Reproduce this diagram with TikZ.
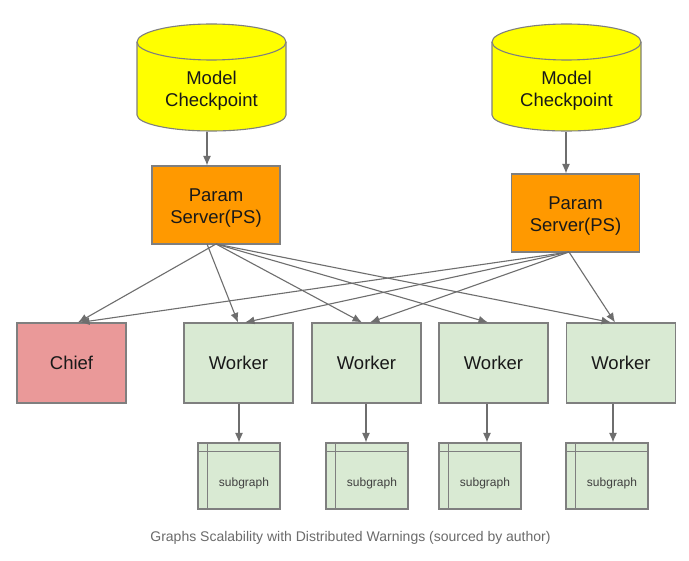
\documentclass[tikz,border=0pt]{standalone}
\usepackage{fontspec}
\setmainfont{Liberation Sans}
\usetikzlibrary{arrows.meta}
\definecolor{edgegray}{HTML}{7F7F7F}
\definecolor{linegray}{HTML}{6E6E6E}
\definecolor{cylyellow}{HTML}{FFFF00}
\definecolor{psorange}{HTML}{FF9900}
\definecolor{chiefred}{HTML}{EA9999}
\definecolor{workergreen}{HTML}{D9EAD3}
\definecolor{captiongray}{HTML}{6B6B6B}
\tikzset{
  bigfont/.style={font=\fontsize{18.5}{22}\selectfont, text=black!90},
  cylshape/.style={fill=cylyellow, draw=edgegray, line width=1.1pt},
  bigtext/.style={bigfont, align=center, inner sep=0pt},
  psbox/.style={fill=psorange, draw=edgegray, line width=1.1pt,
    minimum width=128pt, minimum height=78pt, inner sep=0pt},
  chiefbox/.style={bigfont, fill=chiefred, draw=edgegray, line width=1.1pt,
    minimum width=109pt, minimum height=80pt, inner sep=0pt},
  workerbox/.style={bigfont, fill=workergreen, draw=edgegray, line width=1.1pt,
    minimum width=109pt, minimum height=80pt, inner sep=0pt},
  sgbox/.style={fill=workergreen, draw=edgegray, line width=1.1pt,
    minimum width=82pt, minimum height=66pt, inner sep=0pt},
  sgline/.style={draw=edgegray, line width=1.1pt},
  sgtext/.style={font=\fontsize{12}{14}\selectfont, text=black!75, inner sep=0pt},
  arr/.style={draw=linegray, line width=1.1pt, -{Latex[length=9.5pt,width=8pt]}},
  captionstyle/.style={font=\fontsize{14}{16}\selectfont, text=captiongray, inner sep=0pt}
}
\begin{document}
\begin{tikzpicture}[x=1pt,y=-1pt]
\useasboundingbox[fill=white] (0,0) rectangle (689,561);

% cylinders
\path[cylshape] (137,42) -- (137,115) arc[start angle=180,end angle=360,x radius=74.5pt,y radius=16pt]
  -- (286,42) arc[start angle=0,end angle=180,x radius=74.5pt,y radius=18pt] -- cycle;
\draw[sgline] (137,42) arc[start angle=180,end angle=360,x radius=74.5pt,y radius=18pt];
\path[cylshape] (492,42) -- (492,115) arc[start angle=180,end angle=360,x radius=74.5pt,y radius=16pt]
  -- (641,42) arc[start angle=0,end angle=180,x radius=74.5pt,y radius=18pt] -- cycle;
\draw[sgline] (492,42) arc[start angle=180,end angle=360,x radius=74.5pt,y radius=18pt];
\node[bigtext] (mc1) at (211.5,90.5) {Model\\Checkpoint};
\node[bigtext] (mc2) at (566.5,90.5) {Model\\Checkpoint};
\coordinate (mc1b) at (207,132);
\coordinate (mc2b) at (566,132);

% parameter servers
\node[psbox] (ps1) at (216,205) {};
\node[bigtext] (ps1t) at ([yshift=-3pt]ps1.center) {Param\\Server(PS)};
\node[psbox] (ps2) at (575.5,213) {};
\node[bigtext] (ps2t) at ([yshift=-3pt]ps2.center) {Param\\Server(PS)};

% bottom row
\node[chiefbox] (ch) at (71.5,363) {Chief};
\node[workerbox] (w1) at (238.5,363) {Worker};
\node[workerbox] (w2) at (366.5,363) {Worker};
\node[workerbox] (w3) at (493.5,363) {Worker};
\node[workerbox] (w4) at (621,363) {Worker};

% subgraphs
\foreach \n/\x in {1/239,2/367,3/480,4/607}{
  \node[sgbox] (sg\n) at (\x,476) {};
  \draw[sgline] ([xshift=10pt]sg\n.north west) -- ([xshift=10pt]sg\n.south west);
  \draw[sgline] ([yshift=-9pt]sg\n.north west) -- ([yshift=-9pt]sg\n.north east);
  \node[sgtext] (sgt\n) at ([xshift=5pt,yshift=-7pt]sg\n.center) {subgraph};
}

% checkpoint -> PS
\draw[arr] (mc1b) -- (ps1.north -| mc1b);
\draw[arr] (mc2b) -- (ps2.north -| mc2b);

% PS1 connectors
\coordinate (p1a) at (207,244);
\coordinate (p1b) at (216,244);
\draw[arr] (p1b) -- (ch.north -| 78,0);
\draw[arr] (p1a) -- (w1.north -| 238,0);
\draw[arr] (p1b) -- (w2.north -| 362,0);
\draw[arr] (p1b) -- (w3.north -| 488,0);
\draw[arr] (p1b) -- (w4.north -| 611,0);

% PS2 connectors
\coordinate (p2a) at (569,252);
\draw[arr] (p2a) -- (ch.north -| 80,0);
\draw[arr] (p2a) -- (w1.north -| 245,0);
\draw[arr] (p2a) -- (w2.north -| 370,0);
\draw[arr] (p2a) -- (w4.north -| 615,0);

% worker -> subgraph
\draw[arr] (w1.south -| 239,0) -- (sg1.north -| 239,0);
\draw[arr] (w2.south -| 366,0) -- (sg2.north -| 366,0);
\draw[arr] (w3.south -| 487,0) -- (sg3.north -| 487,0);
\draw[arr] (w4.south -| 613,0) -- (sg4.north -| 613,0);

% caption
\node[captionstyle] (cap) at (350.5,538) {Graphs Scalability with Distributed Warnings (sourced by author)};
\end{tikzpicture}
\end{document}
